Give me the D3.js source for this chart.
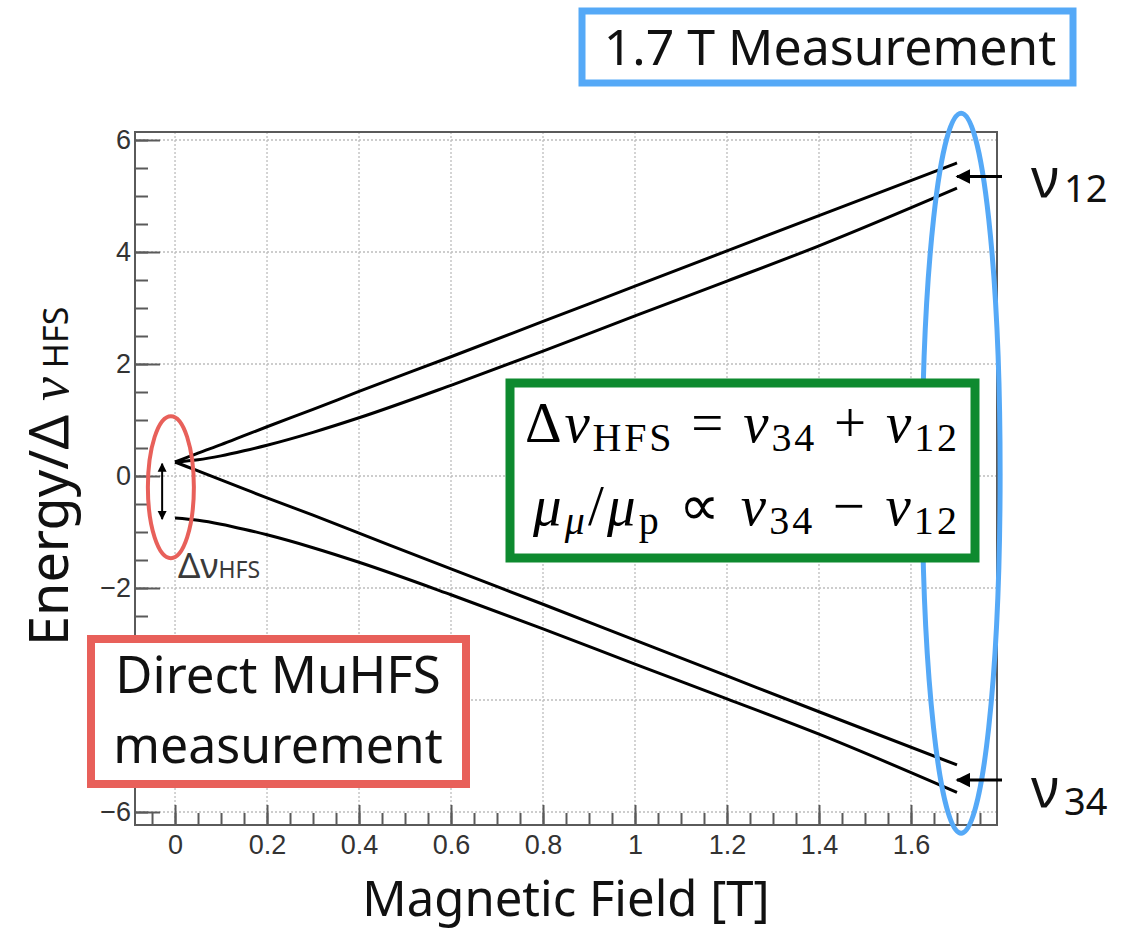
<!DOCTYPE html>
<html>
<head>
<meta charset="utf-8">
<script src="https://cdn.jsdelivr.net/npm/d3@7"></script>
<style>
  body { margin: 0; background: #fff; }
  svg { display: block; }
  .label { font-family: "Noto Sans", sans-serif; fill: #111; }
  .eq { font-family: "Liberation Serif", serif; fill: #000; }
</style>
</head>
<body>
<svg id="chart" width="1135" height="933"></svg>
<script>
// Breit-Rabi levels (energy / delta nu HFS)
var fieldT = [0, 0.05, 0.1, 0.15, 0.2, 0.3, 0.4, 0.6, 0.8, 1.0, 1.2, 1.4, 1.7];
var levelUp = [0.25, 0.41, 0.56, 0.72, 0.88, 1.19, 1.51, 2.13, 2.76, 3.39, 4.02, 4.65, 5.59];
var levelMid = [0.25, 0.29, 0.36, 0.45, 0.55, 0.78, 1.04, 1.62, 2.23, 2.86, 3.48, 4.11, 5.14];
var levelDown = [0.25, 0.09, -0.07, -0.23, -0.39, -0.70, -1.02, -1.66, -2.29, -2.93, -3.57, -4.21, -5.16];
var levelLow = [-0.75, -0.79, -0.86, -0.95, -1.05, -1.28, -1.54, -2.12, -2.73, -3.36, -3.98, -4.61, -5.65];

var xMajor = [0, 0.2, 0.4, 0.6, 0.8, 1, 1.2, 1.4, 1.6];
var yMajor = [-6, -4, -2, 0, 2, 4, 6];
var yHidden = [-4];   // label sits under the red box in the original

var svg = d3.select('#chart');

var x = d3.scaleLinear().domain([-0.087, 1.787]).range([135, 997]);
var y = d3.scaleLinear().domain([6.143, -6.232]).range([132, 825]);

var xMinor = d3.range(-0.05, 1.76, 0.05).map(function(d) { return +d.toFixed(2); });
var yMinor = d3.range(-6, 6.01, 0.5).map(function(d) { return +d.toFixed(1); });

// grid
var grid = svg.append('g');
grid.selectAll('line.gx').data(xMajor).enter().append('line')
    .attr('x1', function(d) { return x(d); }).attr('x2', function(d) { return x(d); })
    .attr('y1', 132).attr('y2', 825);
grid.selectAll('line.gy').data(yMajor).enter().append('line')
    .attr('x1', 135).attr('x2', 997)
    .attr('y1', function(d) { return y(d); }).attr('y2', function(d) { return y(d); });
grid.selectAll('line')
    .attr('stroke', '#bdbdbd').attr('stroke-width', 1.3).attr('stroke-dasharray', '2,2');

// axes (ticks pointing inward)
var xAxis = svg.append('g').attr('transform', 'translate(0,825)')
    .call(d3.axisBottom(x).tickValues(xMajor).tickSizeInner(-20).tickSizeOuter(0).tickPadding(10)
          .tickFormat(d3.format('~g')));
var xAxisMinor = svg.append('g').attr('transform', 'translate(0,825)')
    .call(d3.axisBottom(x).tickValues(xMinor).tickSizeInner(-12).tickSizeOuter(0).tickFormat(''));
var yAxis = svg.append('g').attr('transform', 'translate(135,0)')
    .call(d3.axisLeft(y).tickValues(yMajor).tickSizeInner(-25).tickSizeOuter(0).tickPadding(4)
          .tickFormat(function(d) { return yHidden.indexOf(d) >= 0 ? '' : d3.format('~g')(d); }));
var yAxisMinor = svg.append('g').attr('transform', 'translate(135,0)')
    .call(d3.axisLeft(y).tickValues(yMinor).tickSizeInner(-13).tickSizeOuter(0).tickFormat(''));

[xAxis, xAxisMinor, yAxis, yAxisMinor].forEach(function(a) {
  a.select('.domain').remove();
  a.selectAll('.tick line').attr('stroke', '#5a5a5a').attr('stroke-width', 2);
  a.selectAll('.tick text')
      .attr('font-family', '"Liberation Sans", Arial, sans-serif')
      .attr('font-size', 27)
      .attr('fill', '#333');
});

svg.append('rect')
    .attr('x', 135).attr('y', 132).attr('width', 862).attr('height', 693)
    .attr('fill', 'none').attr('stroke', '#5a5a5a').attr('stroke-width', 2);

// curves
var line = d3.line()
    .x(function(d) { return x(d[0]); })
    .y(function(d) { return y(d[1]); })
    .curve(d3.curveMonotoneX);

[levelUp, levelMid, levelDown, levelLow].forEach(function(lv) {
  svg.append('path')
      .datum(fieldT.map(function(f, i) { return [f, lv[i]]; }))
      .attr('d', line)
      .attr('fill', 'none').attr('stroke', '#000').attr('stroke-width', 3);
});

// markers
var defs = svg.append('defs');
defs.append('marker').attr('id', 'head').attr('viewBox', '0 0 10 10')
    .attr('refX', 9).attr('refY', 5).attr('markerWidth', 5).attr('markerHeight', 5)
    .attr('orient', 'auto-start-reverse')
    .append('path').attr('d', 'M0,0 L10,5 L0,10 z').attr('fill', '#000');
defs.append('marker').attr('id', 'small').attr('viewBox', '0 0 10 10')
    .attr('refX', 9).attr('refY', 5).attr('markerWidth', 4.5).attr('markerHeight', 5)
    .attr('orient', 'auto-start-reverse')
    .append('path').attr('d', 'M0,0 L10,5 L0,10 z').attr('fill', '#000');

// blue ellipse around 1.7 T
svg.append('ellipse')
    .attr('cx', x(1.709)).attr('cy', y(0.05)).attr('rx', 39).attr('ry', 360)
    .attr('fill', 'none').attr('stroke', '#55a9f7').attr('stroke-width', 5);

// red ellipse around zero field
svg.append('ellipse')
    .attr('cx', x(-0.009)).attr('cy', y(-0.2)).attr('rx', 23).attr('ry', 71)
    .attr('fill', 'none').attr('stroke', '#e8605a').attr('stroke-width', 4);

// splitting double arrow
svg.append('line')
    .attr('x1', x(-0.028)).attr('x2', x(-0.028))
    .attr('y1', y(0.22)).attr('y2', y(-0.77))
    .attr('stroke', '#000').attr('stroke-width', 2)
    .attr('marker-start', 'url(#small)').attr('marker-end', 'url(#small)');

var dn = svg.append('text').attr('x', 178).attr('y', 578)
    .style('font-family', '"Noto Sans", sans-serif').style('fill', '#3a3a3a');
dn.append('tspan').style('font-size', '35px').text('Δν');
dn.append('tspan').style('font-size', '23px').text('HFS');

// nu12 / nu34 arrows
[[5.35, 'ν', '12', 197, 202], [-5.43, 'ν', '34', 807, 815]].forEach(function(a) {
  svg.append('line')
      .attr('x1', 1002).attr('x2', x(1.7)).attr('y1', y(a[0])).attr('y2', y(a[0]))
      .attr('stroke', '#000').attr('stroke-width', 3).attr('marker-end', 'url(#head)');
  svg.append('text').attr('class', 'label').attr('x', 1031).attr('y', a[3])
      .style('font-size', '54px').text(a[1]);
  svg.append('text').attr('class', 'label').attr('x', 1064).attr('y', a[4])
      .style('font-size', '38px').text(a[2]);
});

// axis titles
svg.append('text').attr('class', 'label')
    .attr('x', 566).attr('y', 916).attr('text-anchor', 'middle')
    .style('font-size', '49px').text('Magnetic Field [T]');

var yt = svg.append('text').attr('class', 'label')
    .attr('transform', 'translate(68,646) rotate(-90)')
    .style('font-size', '54px');
yt.append('tspan').text('Energy/Δ ');
yt.append('tspan').style('font-family', '"Liberation Serif", serif').style('font-style', 'italic').text('ν');
yt.append('tspan').style('font-size', '34px').text(' HFS');

// green equation box
svg.append('rect').attr('x', 510).attr('y', 383).attr('width', 465).attr('height', 175)
    .attr('fill', '#fff').attr('stroke', '#0e8a2f').attr('stroke-width', 9);

var eq1 = svg.append('text').attr('class', 'eq').attr('x', 525).attr('y', 442)
    .attr('textLength', 432).attr('lengthAdjust', 'spacing').style('font-size', '57px');
eq1.append('tspan').text('Δ');
eq1.append('tspan').style('font-style', 'italic').text('ν');
eq1.append('tspan').attr('dy', 9).style('font-size', '40px').text('HFS');
eq1.append('tspan').attr('dy', -9).text(' = ');
eq1.append('tspan').style('font-style', 'italic').text('ν');
eq1.append('tspan').attr('dy', 9).style('font-size', '40px').text('34');
eq1.append('tspan').attr('dy', -9).text(' + ');
eq1.append('tspan').style('font-style', 'italic').text('ν');
eq1.append('tspan').attr('dy', 9).style('font-size', '40px').text('12');

var eq2 = svg.append('text').attr('class', 'eq').attr('x', 533).attr('y', 525)
    .attr('textLength', 424).attr('lengthAdjust', 'spacing').style('font-size', '57px');
eq2.append('tspan').style('font-style', 'italic').text('μ');
eq2.append('tspan').attr('dy', 9).style('font-size', '40px').style('font-style', 'italic').text('μ');
eq2.append('tspan').attr('dy', -9).text('/');
eq2.append('tspan').style('font-style', 'italic').text('μ');
eq2.append('tspan').attr('dy', 9).style('font-size', '40px').text('p');
eq2.append('tspan').attr('dy', -9).text(' ∝ ');
eq2.append('tspan').style('font-style', 'italic').text('ν');
eq2.append('tspan').attr('dy', 9).style('font-size', '40px').text('34');
eq2.append('tspan').attr('dy', -9).text(' − ');
eq2.append('tspan').style('font-style', 'italic').text('ν');
eq2.append('tspan').attr('dy', 9).style('font-size', '40px').text('12');

// red box
svg.append('rect').attr('x', 91).attr('y', 639).attr('width', 375).attr('height', 145)
    .attr('fill', '#fff').attr('stroke', '#e8605a').attr('stroke-width', 8);
svg.append('text').attr('class', 'label').attr('x', 278).attr('y', 693)
    .attr('text-anchor', 'middle').style('font-size', '51px').text('Direct MuHFS');
svg.append('text').attr('class', 'label').attr('x', 278).attr('y', 763)
    .attr('text-anchor', 'middle').style('font-size', '50px').text('measurement');

// blue title box
svg.append('rect').attr('x', 582).attr('y', 11).attr('width', 491).attr('height', 72)
    .attr('fill', '#fff').attr('stroke', '#55a9f7').attr('stroke-width', 7);
svg.append('text').attr('class', 'label').attr('x', 830).attr('y', 65)
    .attr('text-anchor', 'middle').style('font-size', '50px').text('1.7 T Measurement');
</script>
</body>
</html>
